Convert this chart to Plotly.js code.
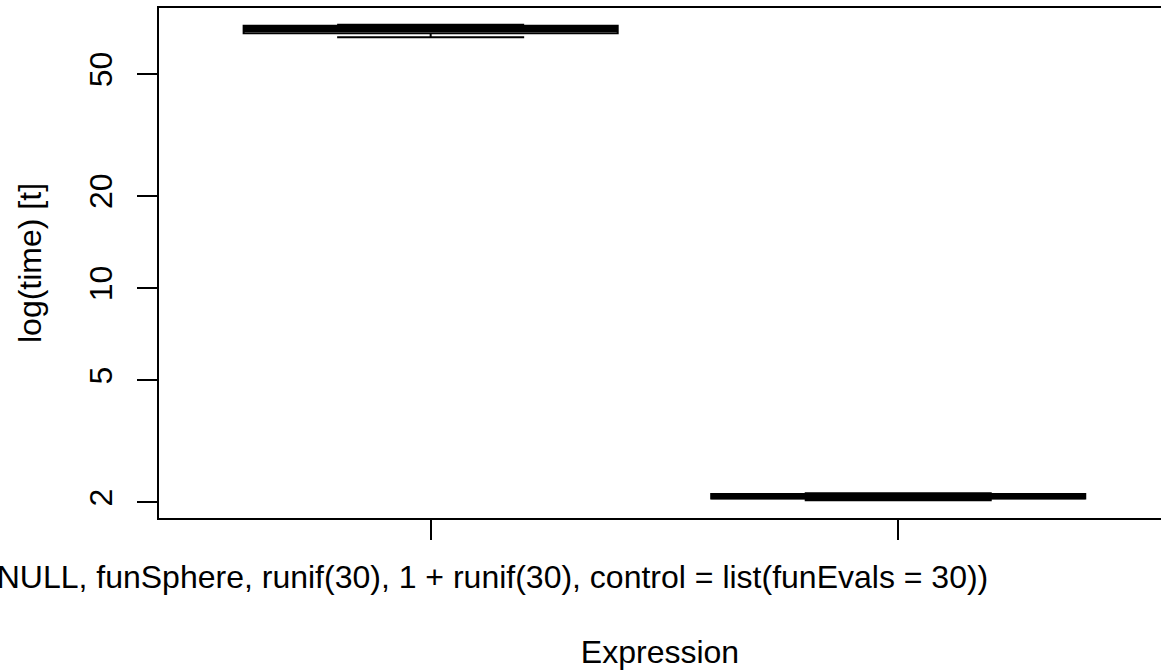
<!DOCTYPE html>
<html>
<head>
<meta charset="utf-8">
<script src="https://cdn.plot.ly/plotly-3.0.1.min.js"></script>
<style>html,body{margin:0;padding:0;background:#fff;overflow:hidden}</style>
</head>
<body>
<div id="chart" style="width:1161px;height:670px"></div>
<script>
// Data (time in log scale)
var positions = [1, 2];
var exprLabels = ["spot(x = NULL, funSphere, runif(30), 1 + runif(30), control = list(funEvals = 30))", ""];
var lowerWhisker = [66.0, 2.03];
var q1Values = [68.0, 2.06];
var medianValues = [70.2, 2.095];
var q3Values = [72.0, 2.13];
var upperWhisker = [72.6, 2.14];
var yTickVals = [2, 5, 10, 20, 50];
var yTickText = ["2", "5", "10", "20", "50"];

var FONT = "Liberation Sans, Arial, Helvetica, sans-serif";
var FS = 32;
var boxWex = 0.8;

var trace = {
  type: "box",
  x: positions,
  q1: q1Values,
  median: medianValues,
  q3: q3Values,
  lowerfence: lowerWhisker,
  upperfence: upperWhisker,
  width: boxWex,
  whiskerwidth: 0.5,
  fillcolor: "#ffffff",
  line: {color: "#000000", width: 2},
  boxpoints: false,
  hoverinfo: "skip",
  showlegend: false
};

// thick median lines (R boxplot medlwd = 3)
var shapes = positions.map(function (p, i) {
  return {
    type: "line", xref: "x", yref: "y",
    x0: p - boxWex / 2, x1: p + boxWex / 2,
    y0: medianValues[i], y1: medianValues[i],
    line: {color: "#000000", width: 6}
  };
});

var layout = {
  width: 1161,
  height: 670,
  paper_bgcolor: "#ffffff",
  plot_bgcolor: "#ffffff",
  margin: {l: 159, r: 0, t: 8, b: 152, pad: 0},
  font: {family: FONT, size: FS, color: "#000000"},
  showlegend: false,
  shapes: shapes,
  xaxis: {
    range: [0.419, 2.562],
    tickmode: "array",
    tickvals: positions,
    ticktext: exprLabels,
    ticks: "outside",
    ticklen: 20,
    tickwidth: 2,
    tickcolor: "#000000",
    ticklabelstandoff: 10,
    ticklabeloverflow: "allow",
    showline: true,
    linecolor: "#000000",
    linewidth: 2,
    mirror: true,
    showgrid: false,
    zeroline: false,
    automargin: false,
    tickfont: {family: FONT, size: FS, color: "#000000"},
    title: {text: "Expression", font: {family: FONT, size: FS, color: "#000000"}, standoff: 61}
  },
  yaxis: {
    type: "log",
    range: [0.2498, 1.9153],
    tickmode: "array",
    tickvals: yTickVals,
    ticktext: yTickText,
    tickangle: -90,
    ticks: "outside",
    ticklen: 20,
    tickwidth: 2,
    tickcolor: "#000000",
    ticklabelstandoff: 12,
    ticklabeloverflow: "allow",
    showline: true,
    linecolor: "#000000",
    linewidth: 2,
    mirror: false,
    showgrid: false,
    zeroline: false,
    automargin: false,
    tickfont: {family: FONT, size: FS, color: "#000000"},
    title: {text: "log(time) [t]", font: {family: FONT, size: FS, color: "#000000"}, standoff: 32}
  }
};

Plotly.newPlot("chart", [trace], layout, {displayModeBar: false, staticPlot: true});
</script>
</body>
</html>
